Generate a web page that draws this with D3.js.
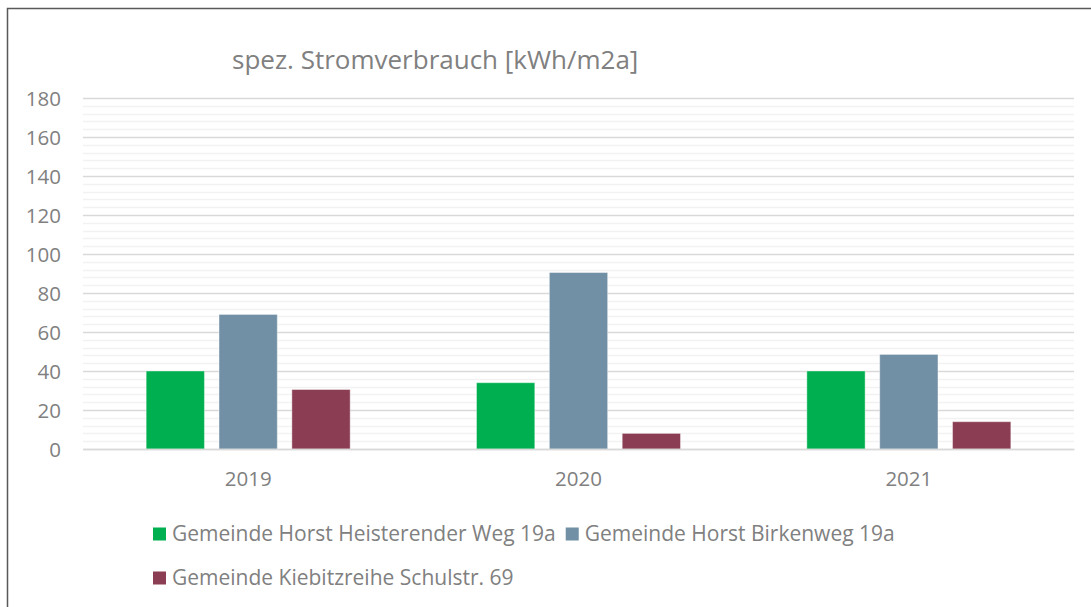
<!DOCTYPE html>
<html>
<head>
<meta charset="utf-8">
<script src="https://cdn.jsdelivr.net/npm/d3@7"></script>
<style>
	body { margin: 0; background: #fff; }
	text { font-family: "Open Sans", sans-serif; fill: #808080; }
</style>
</head>
<body>
<div id="chart-area"></div>
<script>

// data
var years = ["2019", "2020", "2021"];
var seriesNames = ["Gemeinde Horst Heisterender Weg 19a", "Gemeinde Horst Birkenweg 19a", "Gemeinde Kiebitzreihe Schulstr. 69"];
var heisterender = [40, 34, 40];
var birkenweg = [69, 90.5, 48.5];
var kiebitzreihe = [30.5, 8, 14];
var yTicks = [0, 20, 40, 60, 80, 100, 120, 140, 160, 180];
var colors = ["#00b050", "#7190a6", "#8b3e53"];

var width = 1091,
	height = 607;

var svg = d3.select("#chart-area").append("svg")
	.attr("width", width)
	.attr("height", height);

// outer frame
svg.append("rect")
	.attr("x", 7.5)
	.attr("y", 8.5)
	.attr("width", 1100)
	.attr("height", 620)
	.attr("fill", "none")
	.attr("stroke", "#595959")
	.attr("stroke-width", 1.5);

var plot = {left: 83, right: 1074, top: 98, bottom: 449};

var x = d3.scaleBand()
	.domain(years)
	.range([plot.left, plot.right]);

var xInner = d3.scaleBand()
	.domain(d3.range(seriesNames.length))
	.range([0, 204])
	.paddingInner(0.2);

var y = d3.scaleLinear()
	.domain([0, 180])
	.range([plot.bottom, plot.top]);

// minor gridlines every 4
svg.append("g")
	.selectAll("line")
	.data(d3.range(0, 181, 4).filter(function(v) { return v % 20 !== 0; }))
	.enter()
	.append("line")
	.attr("x1", plot.left)
	.attr("x2", plot.right)
	.attr("y1", function(d) { return Math.round(y(d)) + 0.5; })
	.attr("y2", function(d) { return Math.round(y(d)) + 0.5; })
	.attr("stroke", "#f2f2f2")
	.attr("stroke-width", 1.5);

// major gridlines
var yAxis = d3.axisLeft(y)
	.tickValues(yTicks)
	.tickSize(-(plot.right - plot.left))
	.tickPadding(22);

var yg = svg.append("g")
	.attr("transform", "translate(" + plot.left + ",0)")
	.call(yAxis);
yg.select(".domain").remove();
yg.selectAll("line").attr("stroke", "#d9d9d9").attr("stroke-width", 1.5);
yg.selectAll("text")
	.style("font-size", "20.5px")
	.attr("fill", "#808080")
	.attr("dy", "0.35em");

// bars
var rows = [heisterender, birkenweg, kiebitzreihe];
var groups = svg.append("g")
	.selectAll("g")
	.data(years)
	.enter()
	.append("g")
	.attr("transform", function(d) {
		return "translate(" + (x(d) + x.bandwidth() / 2 - 102) + ",0)";
	});

groups.selectAll("rect")
	.data(function(d, i) {
		return rows.map(function(r, s) { return {s: s, v: r[i]}; });
	})
	.enter()
	.append("rect")
	.attr("x", function(d) { return xInner(d.s); })
	.attr("width", xInner.bandwidth())
	.attr("y", function(d) { return y(d.v); })
	.attr("height", function(d) { return y(0) - y(d.v); })
	.attr("fill", function(d) { return colors[d.s]; })
	.attr("stroke", "#ffffff")
	.attr("stroke-opacity", 0.4)
	.attr("stroke-width", 1);

// x axis labels
var xAxis = d3.axisBottom(x).tickSize(0).tickPadding(22);
var xg = svg.append("g")
	.attr("transform", "translate(0," + plot.bottom + ")")
	.call(xAxis);
xg.select(".domain").attr("stroke", "#d9d9d9").attr("stroke-width", 1.5);
xg.selectAll("text").style("font-size", "20.5px").attr("fill", "#808080");

// title
svg.append("text")
	.attr("x", 232)
	.attr("y", 69)
	.style("font-size", "26px")
	.text("spez. Stromverbrauch [kWh/m2a]");

// legend: items flow left to right, third wraps to next row
var legend = svg.append("g");
var lx = 153, ly = 534;
seriesNames.forEach(function(name, i) {
	if (i === 2) { lx = 153; ly = 578; }
	var item = legend.append("g")
		.attr("transform", "translate(" + lx + "," + ly + ")");
	item.append("rect")
		.attr("x", 0)
		.attr("y", -6.5)
		.attr("width", 13)
		.attr("height", 13)
		.attr("fill", colors[i]);
	var t = item.append("text")
		.attr("x", 19)
		.attr("dy", "0.35em")
		.style("font-size", "21px")
		.text(name);
	lx += 19 + t.node().getComputedTextLength() + 10;
});

</script>
</body>
</html>
